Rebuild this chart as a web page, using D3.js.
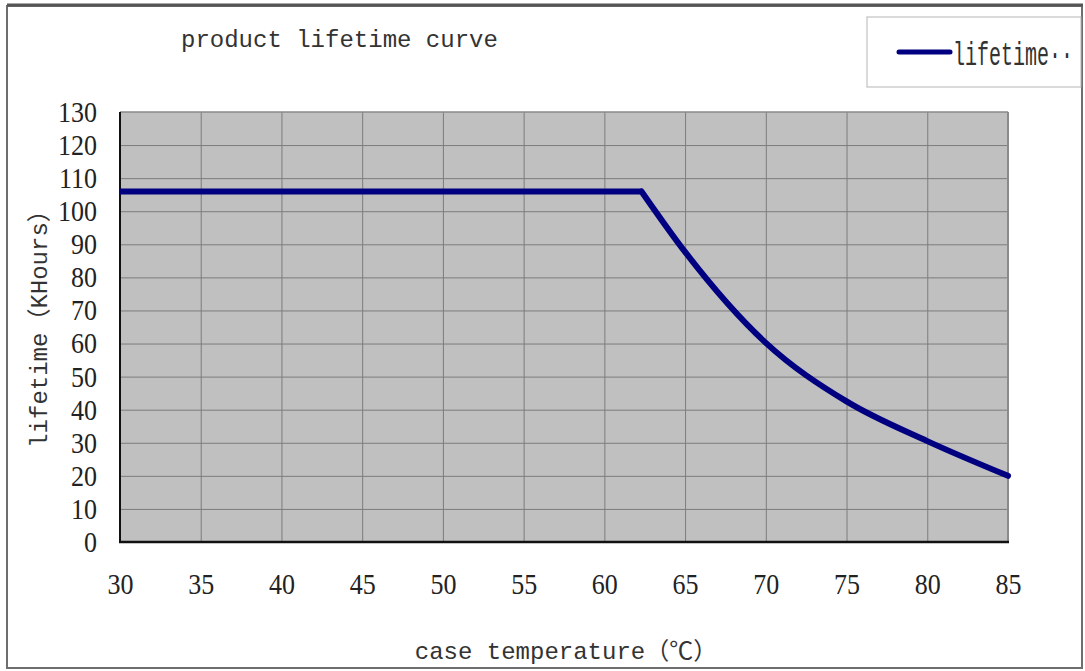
<!DOCTYPE html>
<html>
<head>
<meta charset="utf-8">
<script src="https://cdn.jsdelivr.net/npm/d3@7"></script>
<style>
  body { margin: 0; background: #fff; }
  svg { display: block; }
</style>
</head>
<body>
<div id="chart"></div>
<script>
// values
const temps = [30, 35, 40, 45, 50, 55, 60, 62.3, 65, 70, 75, 80, 85];
const lifetime = [106, 106, 106, 106, 106, 106, 106, 106, 87.7, 60.2, 42.5, 30.5, 20];
const xTicks = [30, 35, 40, 45, 50, 55, 60, 65, 70, 75, 80, 85];
const yTicks = [0, 10, 20, 30, 40, 50, 60, 70, 80, 90, 100, 110, 120, 130];
const kneeIndex = 7; // where the flat part ends

const chartTitle = "product lifetime curve";
const xTitle = "case temperature（℃）";
const yTitle = "lifetime（KHours）";
const legendLabel = "lifetime··";

const W = 1085, H = 671;
const plot = { left: 120, right: 1008, top: 112, bottom: 542 };
const mono = "'Liberation Mono', 'DejaVu Sans Mono', 'Noto Sans CJK SC', monospace";
const serif = "'Liberation Serif', 'DejaVu Serif', serif";

const svg = d3.select("#chart").append("svg")
  .attr("width", W)
  .attr("height", H);

// outer frame
svg.append("rect")
  .attr("x", 7).attr("y", 6)
  .attr("width", 1075).attr("height", 662)
  .attr("fill", "#fff")
  .attr("stroke", "#6e6e6e")
  .attr("stroke-width", 2);
svg.append("line")
  .attr("x1", 7).attr("x2", 1083).attr("y1", 5).attr("y2", 5)
  .attr("stroke", "#555").attr("stroke-width", 3);

const x = d3.scaleLinear().domain([30, 85]).range([plot.left, plot.right]);
const y = d3.scaleLinear().domain([0, 130]).range([plot.bottom, plot.top]);

// plot area
svg.append("rect")
  .attr("x", x(30)).attr("y", y(130))
  .attr("width", x(85) - x(30)).attr("height", y(0) - y(130))
  .attr("fill", "#c0c0c0");

// gridlines
svg.append("g")
  .selectAll("line")
  .data(yTicks.filter(d => d > 0 && d < 130))
  .join("line")
  .attr("x1", x(30)).attr("x2", x(85))
  .attr("y1", d => y(d) + 0.5).attr("y2", d => y(d) + 0.5)
  .attr("stroke", "#7c7c7c").attr("stroke-width", 1);

svg.append("g")
  .selectAll("line")
  .data(xTicks.filter(d => d > 30 && d < 85))
  .join("line")
  .attr("x1", d => x(d) + 0.5).attr("x2", d => x(d) + 0.5)
  .attr("y1", y(130)).attr("y2", y(0))
  .attr("stroke", "#7c7c7c").attr("stroke-width", 1);

// plot border: top/right grey, left/bottom dark
svg.append("line")
  .attr("x1", x(30)).attr("x2", x(85)).attr("y1", y(130)).attr("y2", y(130))
  .attr("stroke", "#8a8a8a").attr("stroke-width", 1.5);
svg.append("line")
  .attr("x1", x(85)).attr("x2", x(85)).attr("y1", y(130)).attr("y2", y(0))
  .attr("stroke", "#8a8a8a").attr("stroke-width", 2);
svg.append("line")
  .attr("x1", x(30)).attr("x2", x(30)).attr("y1", y(130)).attr("y2", y(0))
  .attr("stroke", "#111").attr("stroke-width", 2);
svg.append("line")
  .attr("x1", x(30) - 1).attr("x2", x(85) + 1).attr("y1", y(0)).attr("y2", y(0))
  .attr("stroke", "#111").attr("stroke-width", 2.5);

// axes (labels only)
const yAxis = svg.append("g")
  .attr("transform", "translate(" + plot.left + ",0)")
  .call(d3.axisLeft(y).tickValues(yTicks).tickSize(0).tickPadding(23));
const xAxis = svg.append("g")
  .attr("transform", "translate(0," + plot.bottom + ")")
  .call(d3.axisBottom(x).tickValues(xTicks).tickSize(0).tickPadding(28));

[yAxis, xAxis].forEach(ax => {
  ax.select(".domain").remove();
  ax.selectAll("text")
    .attr("font-family", serif)
    .attr("font-size", 26)
    .attr("fill", "#222")
    .attr("transform", "scale(1,1.13)");
});

// curve: flat part straight, falling part smoothed
const pts = temps.map((t, i) => ({ t: t, v: lifetime[i] }));
const flatLine = d3.line().x(d => x(d.t)).y(d => y(d.v));
const fallLine = d3.line().x(d => x(d.t)).y(d => y(d.v)).curve(d3.curveMonotoneX);

svg.append("path")
  .datum(pts.slice(0, kneeIndex + 1))
  .attr("d", flatLine)
  .attr("fill", "none")
  .attr("stroke", "#000080")
  .attr("stroke-width", 6)
  .attr("stroke-linejoin", "round");
svg.append("path")
  .datum(pts.slice(kneeIndex))
  .attr("d", fallLine)
  .attr("fill", "none")
  .attr("stroke", "#000080")
  .attr("stroke-width", 6)
  .attr("stroke-linecap", "round")
  .attr("stroke-linejoin", "round");

// titles
svg.append("text")
  .attr("x", 181).attr("y", 47)
  .attr("font-family", mono).attr("font-size", 24)
  .attr("fill", "#333")
  .text(chartTitle);

svg.append("text")
  .attr("x", (plot.left + plot.right) / 2 + 2).attr("y", 659)
  .attr("text-anchor", "middle")
  .attr("font-family", mono).attr("font-size", 24)
  .attr("fill", "#333")
  .text(xTitle);

svg.append("text")
  .attr("transform", "translate(47,323) rotate(-90)")
  .attr("text-anchor", "middle")
  .attr("font-family", mono).attr("font-size", 24)
  .attr("fill", "#333")
  .text(yTitle);

// legend
const legend = svg.append("g");
legend.append("rect")
  .attr("x", 867).attr("y", 17)
  .attr("width", 214).attr("height", 70)
  .attr("fill", "#fff")
  .attr("stroke", "#b5b5b5").attr("stroke-width", 1);
legend.append("line")
  .attr("x1", 899).attr("x2", 950).attr("y1", 52).attr("y2", 52)
  .attr("stroke", "#000080").attr("stroke-width", 5)
  .attr("stroke-linecap", "round");
legend.append("text")
  .attr("transform", "translate(953,65) scale(1,1.7)")
  .attr("font-family", mono).attr("font-size", 20)
  .attr("fill", "#333")
  .text(legendLabel);
</script>
</body>
</html>
